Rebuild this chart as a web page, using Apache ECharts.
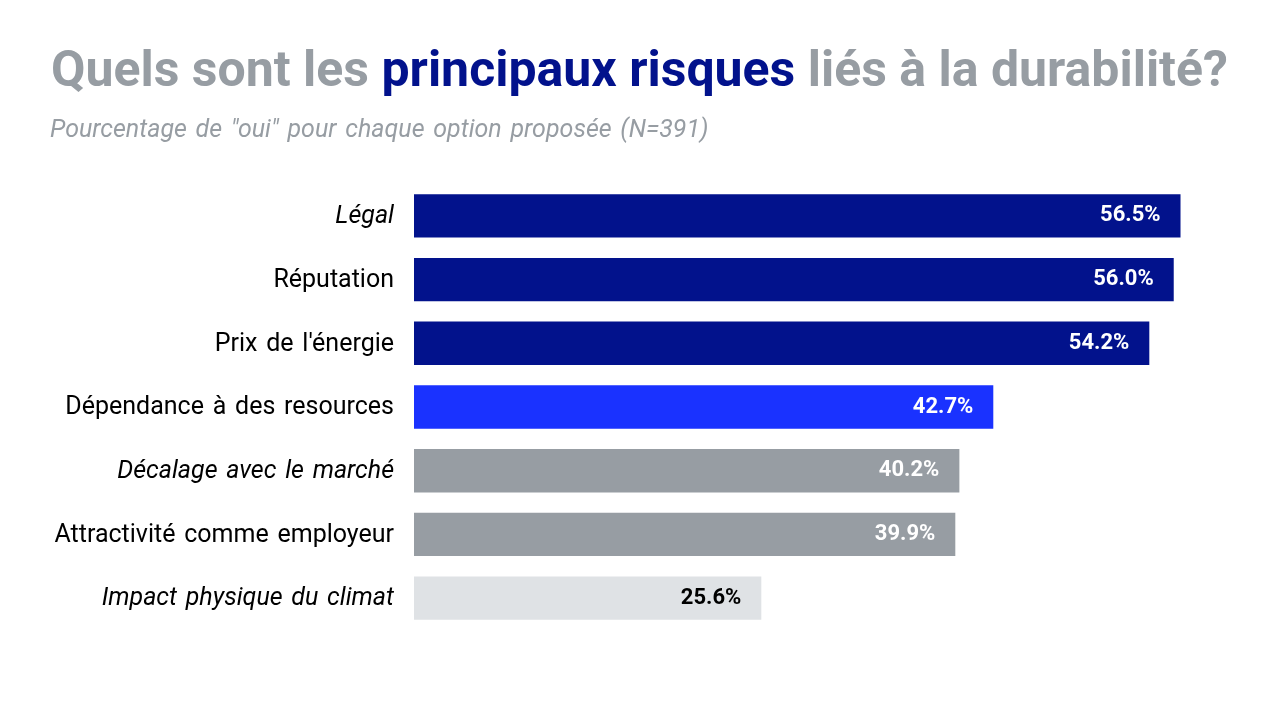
<!DOCTYPE html>
<html><head><meta charset="utf-8">
<script src="https://cdn.jsdelivr.net/npm/echarts@6/dist/echarts.min.js"></script>
<style>html,body{margin:0;padding:0;background:#fff}#c{width:1280px;height:720px}</style>
</head><body><div id="c"></div>
<script>
const categories = ["Légal","Réputation","Prix de l'énergie","Dépendance à des resources","Décalage avec le marché","Attractivité comme employeur","Impact physique du climat"];
const values = [56.5, 56.0, 54.2, 42.7, 40.2, 39.9, 25.6];
const barColors = ["#02128c","#02128c","#02128c","#1a32ff","#979da3","#979da3","#dfe2e5"];
const labelColors = ["#fff","#fff","#fff","#fff","#fff","#fff","#000"];
const italicCats = ["Légal","Décalage avec le marché","Impact physique du climat"];
const wide = s => s.replace(/ /g, ' \u200A');

const chart = echarts.init(document.getElementById('c'));
chart.setOption({
  animation:false,
  backgroundColor:'#fff',
  title:[{
    left:46, top:43,
    text:'{g|Quels sont les }{b|principaux risques}{g| liés à la durabilité?}',
    textStyle:{rich:{
      g:{fontFamily:'Roboto',fontWeight:'bold',fontSize:50,color:'#979da3'},
      b:{fontFamily:'Roboto',fontWeight:'bold',fontSize:50,color:'#02128c'}
    }}
  },{
    left:45, top:113,
    text:wide('Pourcentage de "oui" pour chaque option proposée (N=391)'),
    textStyle:{fontFamily:'Roboto',fontStyle:'italic',fontWeight:'normal',fontSize:25,color:'#979da3'}
  }],
  grid:{left:414,right:52,top:184,bottom:90,containLabel:false},
  xAxis:{type:'value',min:0,max:60,show:false},
  yAxis:{type:'category',inverse:true,data:categories,
    axisLine:{show:false},axisTick:{show:false},
    axisLabel:{margin:20,fontFamily:'Roboto',fontSize:25,color:'#000',
      formatter:v=> italicCats.includes(v)?'{i|'+wide(v)+'}':'{n|'+wide(v)+'}',
      rich:{i:{fontFamily:'Roboto',fontSize:25,fontStyle:'italic',color:'#000',padding:[2,0,0,0]},
            n:{fontFamily:'Roboto',fontSize:25,color:'#000',padding:[2,0,0,0]}}}
  },
  series:[{type:'bar',barCategoryGap:'32%',
    data:values.map((v,i)=>({value:v,itemStyle:{color:barColors[i]},
      label:{color:labelColors[i]}})),
    label:{show:true,position:'insideRight',distance:20,fontFamily:'Roboto',fontWeight:'bold',fontSize:22,
      formatter:p=>p.value.toFixed(1)+'%'}
  }]
});
</script></body></html>
